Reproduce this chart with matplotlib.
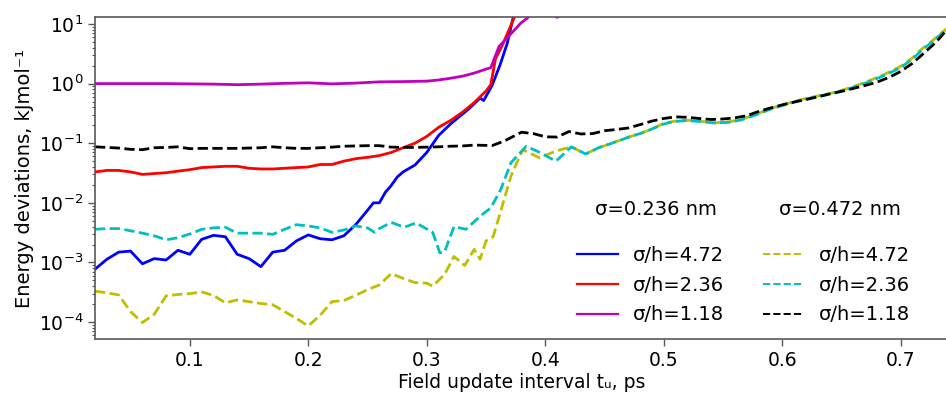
import matplotlib
matplotlib.use("Agg")
import matplotlib.pyplot as plt
from matplotlib.lines import Line2D

# sigma = 0.236 nm
x_b = [0.02, 0.03, 0.04, 0.05, 0.06, 0.07, 0.08, 0.09, 0.10, 0.11, 0.12, 0.13, 0.14, 0.15,
       0.16, 0.17, 0.18, 0.19, 0.20, 0.21, 0.22, 0.23, 0.24, 0.25, 0.255, 0.26, 0.265, 0.27,
       0.275, 0.28, 0.29, 0.30, 0.31, 0.32, 0.335, 0.345, 0.348, 0.355, 0.362, 0.368, 0.3725, 0.38]
y_b = [7.7e-4, 1.13e-3, 1.49e-3, 1.55e-3, 9.5e-4, 1.16e-3, 1.1e-3, 1.6e-3, 1.37e-3, 2.44e-3,
       2.85e-3, 2.7e-3, 1.37e-3, 1.16e-3, 8.5e-4, 1.49e-3, 1.6e-3, 2.3e-3, 2.9e-3, 2.5e-3,
       2.4e-3, 2.8e-3, 4.3e-3, 7.5e-3, 1.0e-2, 1.0e-2, 1.5e-2, 1.95e-2, 2.7e-2, 3.3e-2, 4.3e-2,
       7.0e-2, 0.135, 0.21, 0.37, 0.57, 0.52, 0.92, 2.1, 4.8, 11.8, 40.0]

x_r = [0.02, 0.03, 0.04, 0.05, 0.06, 0.07, 0.08, 0.09, 0.10, 0.11, 0.12, 0.13, 0.14, 0.15,
       0.16, 0.17, 0.18, 0.19, 0.20, 0.21, 0.22, 0.23, 0.24, 0.25, 0.26, 0.27, 0.28, 0.29,
       0.30, 0.31, 0.32, 0.33, 0.34, 0.35, 0.354, 0.358, 0.364, 0.371, 0.38]
y_r = [3.3e-2, 3.5e-2, 3.5e-2, 3.3e-2, 3.0e-2, 3.1e-2, 3.2e-2, 3.4e-2, 3.6e-2, 3.9e-2, 4.0e-2,
       4.1e-2, 4.1e-2, 3.8e-2, 3.7e-2, 3.7e-2, 3.8e-2, 3.9e-2, 4.0e-2, 4.4e-2, 4.4e-2, 5.0e-2,
       5.5e-2, 5.8e-2, 6.2e-2, 7.0e-2, 8.4e-2, 0.10, 0.13, 0.185, 0.24, 0.33, 0.48, 0.75, 0.96,
       2.6, 4.5, 9.5, 25.0]

x_m = [0.02, 0.04, 0.06, 0.08, 0.10, 0.12, 0.14, 0.16, 0.18, 0.20, 0.22, 0.24, 0.26, 0.28,
       0.30, 0.31, 0.32, 0.33, 0.34, 0.35, 0.354, 0.361, 0.369, 0.3795, 0.385, 0.39, 0.40, 0.41, 0.42]
y_m = [1.0, 1.0, 1.0, 1.0, 0.99, 0.98, 0.96, 0.98, 1.01, 1.03, 0.99, 1.02, 1.07, 1.08, 1.10,
       1.15, 1.23, 1.33, 1.5, 1.75, 1.85, 4.2, 6.2, 10.4, 12.6, 18.0, 18.0, 12.9, 20.0]

# sigma = 0.472 nm
x_y = [0.02, 0.03, 0.04, 0.05, 0.06, 0.07, 0.08, 0.09, 0.10, 0.11, 0.12, 0.13, 0.14, 0.15,
       0.16, 0.17, 0.18, 0.19, 0.20, 0.21, 0.22, 0.23, 0.24, 0.25, 0.26, 0.27, 0.28, 0.29,
       0.30, 0.305, 0.315, 0.323, 0.332, 0.34, 0.345, 0.35, 0.356, 0.362, 0.371, 0.381, 0.395,
       0.402, 0.41, 0.422, 0.434, 0.445, 0.453, 0.462, 0.472, 0.48, 0.489, 0.50, 0.509, 0.52,
       0.53, 0.543, 0.555, 0.565, 0.577, 0.588, 0.60, 0.616, 0.63, 0.644, 0.658, 0.672, 0.686,
       0.70, 0.71, 0.717, 0.728, 0.74]
y_y = [3.3e-4, 3.1e-4, 2.85e-4, 1.5e-4, 9.8e-5, 1.35e-4, 2.75e-4, 2.9e-4, 3.0e-4, 3.2e-4,
       2.8e-4, 2.1e-4, 2.35e-4, 2.2e-4, 2.05e-4, 1.95e-4, 1.5e-4, 1.15e-4, 8.6e-5, 1.3e-4,
       2.2e-4, 2.3e-4, 2.8e-4, 3.5e-4, 4.2e-4, 6.5e-4, 5.4e-4, 4.6e-4, 4.5e-4, 4.0e-4, 6.3e-4,
       1.26e-3, 8.9e-4, 1.66e-3, 1.13e-3, 2.3e-3, 2.7e-3, 6.8e-3, 2.8e-2, 7.8e-2, 5.7e-2,
       6.5e-2, 7.5e-2, 8.7e-2, 6.6e-2, 8.4e-2, 9.5e-2, 0.11, 0.13, 0.145, 0.17, 0.215, 0.234,
       0.243, 0.235, 0.22, 0.228, 0.25, 0.30, 0.37, 0.44, 0.54, 0.62, 0.71, 0.86, 1.09, 1.42,
       1.95, 2.7, 3.7, 5.5, 8.8]

x_c = [0.02, 0.03, 0.04, 0.05, 0.06, 0.07, 0.08, 0.09, 0.10, 0.11, 0.12, 0.13, 0.14, 0.15,
       0.16, 0.17, 0.18, 0.19, 0.20, 0.21, 0.22, 0.23, 0.24, 0.25, 0.256, 0.26, 0.27, 0.281,
       0.291, 0.305, 0.311, 0.315, 0.323, 0.333, 0.346, 0.354, 0.3626, 0.371, 0.384, 0.396,
       0.409, 0.422, 0.434, 0.445, 0.453, 0.462, 0.472, 0.48, 0.489, 0.50, 0.509, 0.52, 0.53,
       0.543, 0.555, 0.565, 0.577, 0.588, 0.60, 0.616, 0.63, 0.644, 0.658, 0.672, 0.686, 0.70,
       0.71, 0.717, 0.728, 0.74]
y_c = [3.6e-3, 3.7e-3, 3.7e-3, 3.4e-3, 3.1e-3, 2.8e-3, 2.4e-3, 2.6e-3, 3.0e-3, 3.6e-3,
       3.8e-3, 3.9e-3, 3.1e-3, 3.1e-3, 3.1e-3, 2.96e-3, 3.6e-3, 4.3e-3, 4.1e-3, 3.8e-3,
       3.2e-3, 3.5e-3, 4.1e-3, 3.8e-3, 3.2e-3, 3.7e-3, 4.7e-3, 3.9e-3, 4.6e-3, 3.2e-3,
       1.45e-3, 1.5e-3, 4.0e-3, 3.6e-3, 6.2e-3, 8.2e-3, 1.7e-2, 4.7e-2, 8.9e-2, 6.9e-2,
       5.0e-2, 8.7e-2, 6.6e-2, 8.4e-2, 9.5e-2, 0.11, 0.13, 0.145, 0.17, 0.21, 0.232, 0.24,
       0.232, 0.218, 0.225, 0.245, 0.295, 0.36, 0.43, 0.53, 0.61, 0.70, 0.84, 1.05, 1.37,
       1.85, 2.6, 3.5, 5.3, 8.6]

x_k = [0.02, 0.03, 0.04, 0.05, 0.06, 0.07, 0.08, 0.09, 0.10, 0.11, 0.12, 0.13, 0.14, 0.15,
       0.16, 0.17, 0.18, 0.19, 0.20, 0.21, 0.22, 0.23, 0.24, 0.25, 0.26, 0.27, 0.28, 0.29,
       0.30, 0.31, 0.32, 0.33, 0.34, 0.35, 0.355, 0.365, 0.38, 0.39, 0.40, 0.41, 0.42, 0.43,
       0.44, 0.45, 0.46, 0.47, 0.48, 0.49, 0.50, 0.51, 0.52, 0.53, 0.54, 0.55, 0.56, 0.57,
       0.58, 0.59, 0.60, 0.61, 0.62, 0.63, 0.64, 0.65, 0.66, 0.67, 0.68, 0.69, 0.70, 0.71,
       0.72, 0.73, 0.74]
y_k = [0.087, 0.085, 0.083, 0.079, 0.078, 0.084, 0.085, 0.087, 0.081, 0.082, 0.082, 0.082,
       0.082, 0.083, 0.084, 0.087, 0.084, 0.082, 0.082, 0.084, 0.086, 0.089, 0.090, 0.091,
       0.091, 0.086, 0.085, 0.085, 0.086, 0.087, 0.089, 0.090, 0.093, 0.092, 0.091, 0.108,
       0.153, 0.145, 0.128, 0.127, 0.157, 0.143, 0.145, 0.162, 0.170, 0.180, 0.205, 0.235,
       0.26, 0.277, 0.272, 0.26, 0.25, 0.255, 0.266, 0.29, 0.34, 0.39, 0.44, 0.49, 0.54, 0.60,
       0.67, 0.74, 0.83, 0.93, 1.06, 1.27, 1.6, 2.2, 3.3, 5.0, 8.5]

labels = ["σ/h=4.72", "σ/h=2.36", "σ/h=1.18"]
titles = ["σ=0.236 nm", "σ=0.472 nm"]
x_ticks = [0.1, 0.2, 0.3, 0.4, 0.5, 0.6, 0.7]

fig = plt.figure(figsize=(9.46, 3.95), dpi=100)
ax = fig.add_axes([95 / 946, 1 - 339 / 395, 1.002 - 95 / 946, (339 - 17) / 395])

lw = 2.0
ax.plot(x_b, y_b, color='b', lw=lw)
ax.plot(x_r, y_r, color='r', lw=lw)
ax.plot(x_m, y_m, color='m', lw=lw)
ax.plot(x_y, y_y, color='y', lw=lw, ls='--')
ax.plot(x_c, y_c, color='c', lw=lw, ls='--')
ax.plot(x_k, y_k, color='k', lw=lw, ls='--')

ax.set_yscale('log')
ax.set_ylim(5.2e-5, 13.1)
ax.set_xlim(0.02, 0.7398)
ax.set_xticks(x_ticks)
ax.set_xticklabels([f"{v:.1f}" for v in x_ticks])

for s in ax.spines.values():
    s.set_color('0.35')
    s.set_linewidth(1.2)
ax.spines['right'].set_visible(False)
ax.tick_params(axis='both', which='major', labelsize=13.5, length=5, color='0.35', width=1)
ax.tick_params(axis='y', which='minor', length=2.5, color='0.35', width=0.8)

ax.set_xlabel("Field update interval tᵤ, ps", fontsize=13.5, labelpad=2)
ax.set_ylabel("Energy deviations, kJmol⁻¹", fontsize=14, labelpad=3)

handles = [Line2D([], [], color='b', lw=1.6),
           Line2D([], [], color='r', lw=1.6),
           Line2D([], [], color='m', lw=1.6),
           Line2D([], [], color='y', lw=1.4, ls='--'),
           Line2D([], [], color='c', lw=1.4, ls='--'),
           Line2D([], [], color='k', lw=1.4, ls='--')]
leg = ax.legend(handles, labels + labels, ncol=2, loc='upper left',
                bbox_to_anchor=(577 / 946, 1 - 246 / 395), bbox_transform=fig.transFigure,
                frameon=False, borderpad=0, borderaxespad=0, handlelength=2.1,
                handletextpad=0.77, columnspacing=2.0, labelspacing=0.55, fontsize=14)

fig.text(656 / 946, 1 - 209 / 395, titles[0], ha='center', va='center', fontsize=14)
fig.text(840 / 946, 1 - 209 / 395, titles[1], ha='center', va='center', fontsize=14)

fig.savefig("out.png", dpi=100)
